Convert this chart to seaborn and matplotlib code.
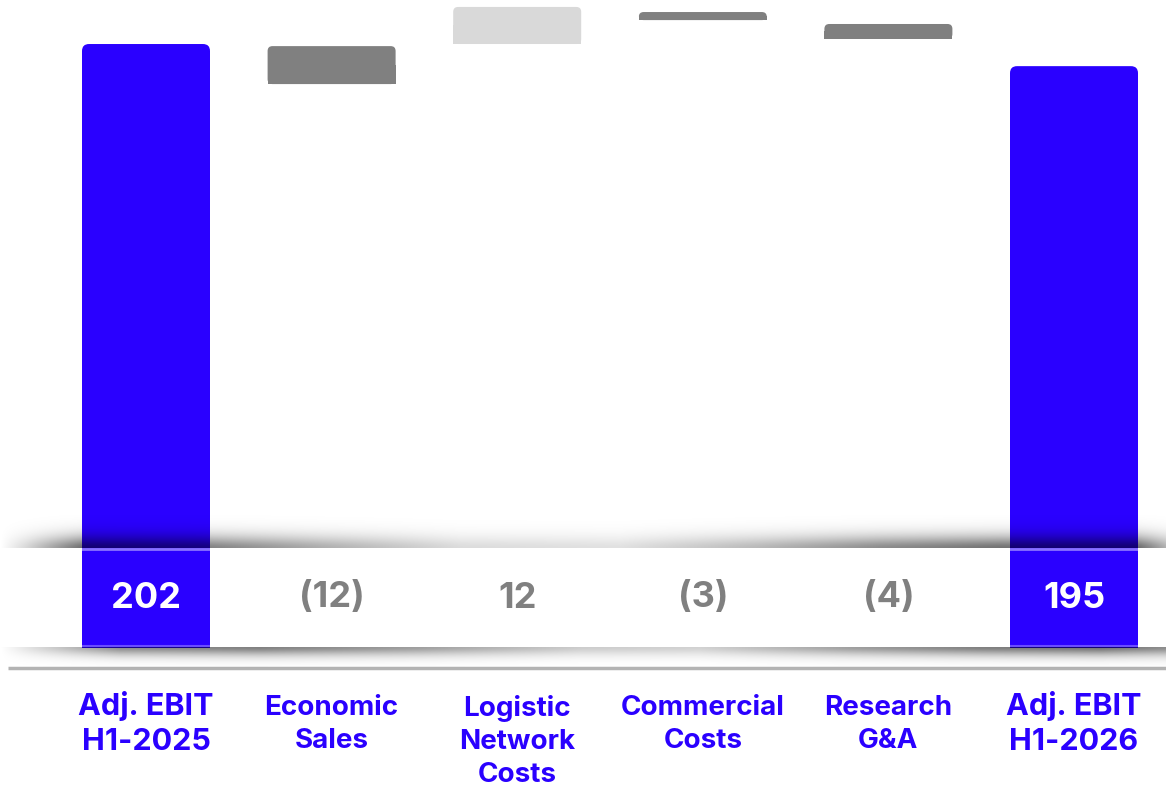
import numpy as np
import pandas as pd
import matplotlib
matplotlib.use("Agg")
import matplotlib.pyplot as plt
from matplotlib.patches import FancyBboxPatch, Rectangle
import seaborn as sns

# ---------------- data ----------------
categories = ["Adj. EBIT\nH1-2025", "Economic\nSales", "Logistic\nNetwork\nCosts",
              "Commercial\nCosts", "Research\nG&A", "Adj. EBIT\nH1-2026"]
value_labels = ["202", "(12)", "12", "(3)", "(4)", "195"]
bar_bottoms = [0, 188.6, 202.0, 210.0, 203.7, 0]
bar_tops = [202, 201.3, 214.4, 212.7, 208.7, 194.6]

BLUE = "#2A00FF"
GREY = "#808080"
LIGHT = "#D9D9D9"
bar_colors = [BLUE, GREY, LIGHT, GREY, GREY, BLUE]
label_colors = ["white", GREY, GREY, GREY, GREY, "white"]

# ---------------- layout ----------------
W, H = 1166, 788
PX_PER_CAT = 185.6
X0_PX = 146
PX_PER_UNIT = 2.99
ZERO_PX = 648

def xd(px):
    return (px - X0_PX) / PX_PER_CAT

def yd(py):
    return (ZERO_PX - py) / PX_PER_UNIT

sns.set_theme(style="white")
plt.rcParams["font.family"] = ["Inter", "DejaVu Sans"]

fig = plt.figure(figsize=(W / 100, H / 100), dpi=100)
ax = fig.add_axes([0, 0, 1, 1])

df = pd.DataFrame({
    "category": categories,
    "height": np.array(bar_tops) - np.array(bar_bottoms),
})
sns.barplot(data=df, x="category", y="height", hue="category",
            palette=bar_colors, saturation=1, legend=False,
            width=128 / PX_PER_CAT, order=categories, hue_order=categories,
            ax=ax, zorder=2)

patches = sorted([p for p in ax.patches], key=lambda p: p.get_x())
r_x = 7 / PX_PER_CAT
aspect = PX_PER_CAT / PX_PER_UNIT
for p, b in zip(patches, bar_bottoms):
    x, w, h = p.get_x(), p.get_width(), p.get_height()
    c = p.get_facecolor()
    p.set_visible(False)
    rr = r_x if h > 20 else r_x * 0.7
    fb = FancyBboxPatch((x, b), w, h,
                        boxstyle=f"round,pad=0,rounding_size={rr}",
                        mutation_aspect=aspect, facecolor=c, edgecolor="none",
                        zorder=2)
    ax.add_patch(fb)
    ax.add_patch(Rectangle((x, b), w, h * 0.5, facecolor=c, edgecolor="none",
                           zorder=2))

# ---------------- band shadows ----------------
xs_px = np.arange(0, W)
def shadow(y_top_px, y_bot_px, anchors_x, anchors_a, darkest_at_bottom, k=2.6):
    ny = int(y_bot_px - y_top_px)
    ax_prof = np.interp(xs_px, anchors_x, anchors_a)
    t = np.linspace(0, 1, ny)
    d = (1 - t) if darkest_at_bottom else t
    prof = np.exp(-(d * k) ** 1.6)
    alpha = prof[:, None] * ax_prof[None, :]
    img = np.zeros((ny, W, 4))
    img[..., 3] = alpha
    ax.imshow(img, extent=[xd(0), xd(W), yd(y_bot_px), yd(y_top_px)],
              aspect="auto", zorder=3, interpolation="bilinear")

shadow(515, 548,
       [0, 25, 80, 200, 320, 460, 620, 760, 880, 1000, 1140, 1166],
       [0.0, 0.15, 0.55, 0.5, 0.32, 0.14, 0.12, 0.28, 0.45, 0.55, 0.55, 0.3],
       True)
shadow(647, 668,
       [0, 30, 120, 260, 420, 580, 700, 850, 980, 1100, 1166],
       [0.0, 0.12, 0.45, 0.5, 0.38, 0.2, 0.18, 0.38, 0.5, 0.55, 0.45],
       False, k=2.4)

# band edge highlights
ax.plot([xd(0), xd(W)], [yd(549), yd(549)], color="white", alpha=0.45, lw=2,
        zorder=4)
ax.plot([xd(0), xd(W)], [yd(646), yd(646)], color="white", alpha=0.3, lw=1.5,
        zorder=4)

# baseline
ax.plot([xd(8), xd(W)], [yd(668), yd(668)], color="#B3B3B3", lw=2.5,
        solid_capstyle="butt", zorder=1)

# value labels
for i, (lab, col) in enumerate(zip(value_labels, label_colors)):
    ax.text(i, yd(598), lab, ha="center", va="center", fontsize=26,
            fontweight="bold", color=col, zorder=5)

# category labels
for i, cat in enumerate(categories):
    big = cat.startswith("Adj")
    ax.text(i, yd(691 if big else 695), cat, ha="center", va="top",
            fontsize=22 if big else 20, fontweight="bold", color=BLUE,
            linespacing=1.32 if big else 1.36, zorder=5)

ax.set_xlim(xd(0), xd(W))
ax.set_ylim(yd(H), yd(0))
ax.set_axis_off()

fig.savefig("out.png", dpi=100)
